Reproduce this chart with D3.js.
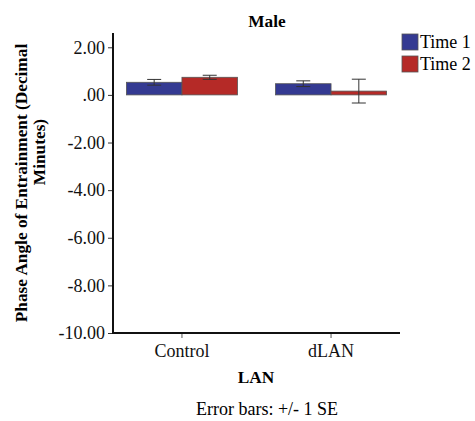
<!DOCTYPE html>
<html>
<head>
<meta charset="utf-8">
<script src="https://cdn.jsdelivr.net/npm/d3@7"></script>
<style>
  html, body { margin: 0; padding: 0; background: #fff; }
  svg { display: block; font-family: "Liberation Serif", "Times New Roman", serif; }
</style>
</head>
<body>
<svg id="chart" width="475" height="421"></svg>
<script>
// Phase angle of entrainment for males, by LAN condition and time point
const groups = ["Control", "dLAN"];
const seriesNames = ["Time 1", "Time 2"];
const time1Means = [0.53, 0.47];
const time2Means = [0.74, 0.16];
const time1SE = [0.12, 0.12];
const time2SE = [0.085, 0.50];
const yTicks = [2, 0, -2, -4, -6, -8, -10];
const seriesColors = ["#343a92", "#b52a27"];

const svg = d3.select("#chart");
const fs = 18;       // regular text
const fsb = 17.3;    // bold titles

const x0 = d3.scaleBand().domain(groups).range([113, 400])
  .paddingInner(0.255).paddingOuter(0.09);
const x1 = d3.scaleBand().domain(seriesNames).range([0, x0.bandwidth()]);
const y = d3.scaleLinear().domain([-10, 2.6]).range([333, 33]);

const rows = [];
groups.forEach((g, i) => {
  rows.push({ group: g, series: seriesNames[0], mean: time1Means[i], se: time1SE[i] });
  rows.push({ group: g, series: seriesNames[1], mean: time2Means[i], se: time2SE[i] });
});
const color = d3.scaleOrdinal().domain(seriesNames).range(seriesColors);

// bars
svg.append("g").selectAll("rect").data(rows).join("rect")
  .attr("x", d => x0(d.group) + x1(d.series))
  .attr("width", x1.bandwidth())
  .attr("y", d => y(Math.max(0, d.mean)))
  .attr("height", d => Math.abs(y(d.mean) - y(0)))
  .attr("fill", d => color(d.series))
  .attr("stroke", "#555")
  .attr("stroke-width", 0.8);

// error bars (+/- 1 SE)
const capW = 14;
const eb = svg.append("g").attr("stroke", "#333").attr("stroke-width", 1).attr("fill", "none");
rows.forEach(d => {
  const cx = x0(d.group) + x1(d.series) + x1.bandwidth() / 2;
  const yHi = y(d.mean + d.se), yLo = y(d.mean - d.se);
  eb.append("line").attr("x1", cx).attr("x2", cx).attr("y1", yHi).attr("y2", yLo);
  eb.append("line").attr("x1", cx - capW / 2).attr("x2", cx + capW / 2).attr("y1", yHi).attr("y2", yHi);
  eb.append("line").attr("x1", cx - capW / 2).attr("x2", cx + capW / 2).attr("y1", yLo).attr("y2", yLo);
});

// y axis: labels like "2.00", ".00", "-2.00" with a plain hyphen
const fmt = v => {
  const s = Math.abs(v).toFixed(2).replace(/^0\./, ".");
  return (v < 0 ? "-" : "") + s;
};
const yAxis = svg.append("g").attr("transform", "translate(113,0)")
  .call(d3.axisLeft(y).tickValues(yTicks).tickFormat(fmt).tickSize(5).tickPadding(3));
yAxis.select(".domain").remove();
yAxis.selectAll(".tick line").attr("stroke", "#333");
yAxis.selectAll(".tick text").attr("font-size", fs).attr("font-family", "Liberation Serif").attr("fill", "#111");
svg.append("line").attr("x1", 113).attr("x2", 113).attr("y1", y.range()[1]).attr("y2", y(-10) + 1)
  .attr("stroke", "#111").attr("stroke-width", 2);

// x axis
const xAxis = svg.append("g").attr("transform", "translate(0,333)")
  .call(d3.axisBottom(x0).tickSize(5).tickPadding(6));
xAxis.select(".domain").remove();
xAxis.selectAll(".tick line").attr("stroke", "#555");
xAxis.selectAll(".tick text").attr("font-size", fs).attr("font-family", "Liberation Serif").attr("fill", "#111");
svg.append("line").attr("x1", 112).attr("x2", 400).attr("y1", 333).attr("y2", 333)
  .attr("stroke", "#111").attr("stroke-width", 2);

// titles
svg.append("text").attr("x", 267).attr("y", 27).attr("text-anchor", "middle")
  .attr("font-size", fsb).attr("font-weight", "bold").text("Male");
svg.append("text").attr("x", 256).attr("y", 383).attr("text-anchor", "middle")
  .attr("font-size", fsb).attr("font-weight", "bold").text("LAN");
svg.append("text").attr("x", 267).attr("y", 415).attr("text-anchor", "middle")
  .attr("font-size", fs).text("Error bars: +/- 1 SE");

const yl = svg.append("g").attr("font-size", fsb).attr("font-weight", "bold").attr("text-anchor", "middle");
yl.append("text").attr("transform", "translate(27,183) rotate(-90)").text("Phase Angle of Entrainment (Decimal");
yl.append("text").attr("transform", "translate(45,152) rotate(-90)").text("Minutes)");

// legend
const lg = svg.append("g").attr("transform", "translate(402,34)");
seriesNames.forEach((s, i) => {
  const g = lg.append("g").attr("transform", `translate(0,${i * 22})`);
  g.append("rect").attr("width", 16).attr("height", 16).attr("fill", color(s))
    .attr("stroke", "#555").attr("stroke-width", 0.8);
  g.append("text").attr("x", 18).attr("y", 14).attr("font-size", fs).text(s);
});
</script>
</body>
</html>
